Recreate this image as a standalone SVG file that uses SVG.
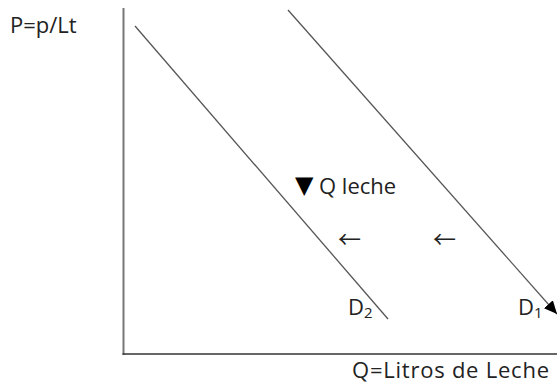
<svg xmlns="http://www.w3.org/2000/svg" width="557" height="384" viewBox="0 0 557 384">
<style>
text{font-family:"Open Sans","Liberation Sans",Arial,sans-serif;fill:#222;font-size:22px;}
.s{font-size:15px;}
.tri{font-family:"DejaVu Sans",sans-serif;font-size:24px;fill:#000;}
.arr{font-family:"Noto Sans CJK SC","DejaVu Sans",sans-serif;font-size:23px;}
.c{stroke:#555;stroke-width:1.3;fill:none;}
</style>
<defs>
<marker id="ah" markerWidth="13" markerHeight="12" refX="13" refY="6" orient="auto" markerUnits="userSpaceOnUse" viewBox="0 0 13 12">
<path d="M0,0 L13,6 L0,12 z" fill="#000"/>
</marker>
</defs>
<rect width="557" height="384" fill="#fff"/>
<g id="axes">
<line x1="123.5" y1="8" x2="123.5" y2="355" stroke="#777" stroke-width="2"/>
<line x1="122.5" y1="354" x2="557" y2="354" stroke="#333" stroke-width="1.5"/>
</g>
<g id="connectors">
<line class="c" x1="135" y1="26" x2="388" y2="319"/>
<line class="c" x1="288" y1="10" x2="557" y2="314" marker-end="url(#ah)"/>
</g>
<g id="label-p"><text x="10" y="33">P=p/Lt</text></g>
<g id="label-q"><text x="352" y="378" textLength="197">Q=Litros de Leche</text></g>
<g id="label-qleche"><text class="tri" x="295" y="193">▼</text><text x="319" y="194">Q leche</text></g>
<g id="arrow1"><text class="arr" x="338" y="248">←</text></g>
<g id="arrow2"><text class="arr" x="433" y="248">←</text></g>
<g id="label-d2"><text x="348" y="315">D<tspan class="s" dy="3">2</tspan></text></g>
<g id="label-d1"><text x="518" y="315">D<tspan class="s" dy="3">1</tspan></text></g>
</svg>
